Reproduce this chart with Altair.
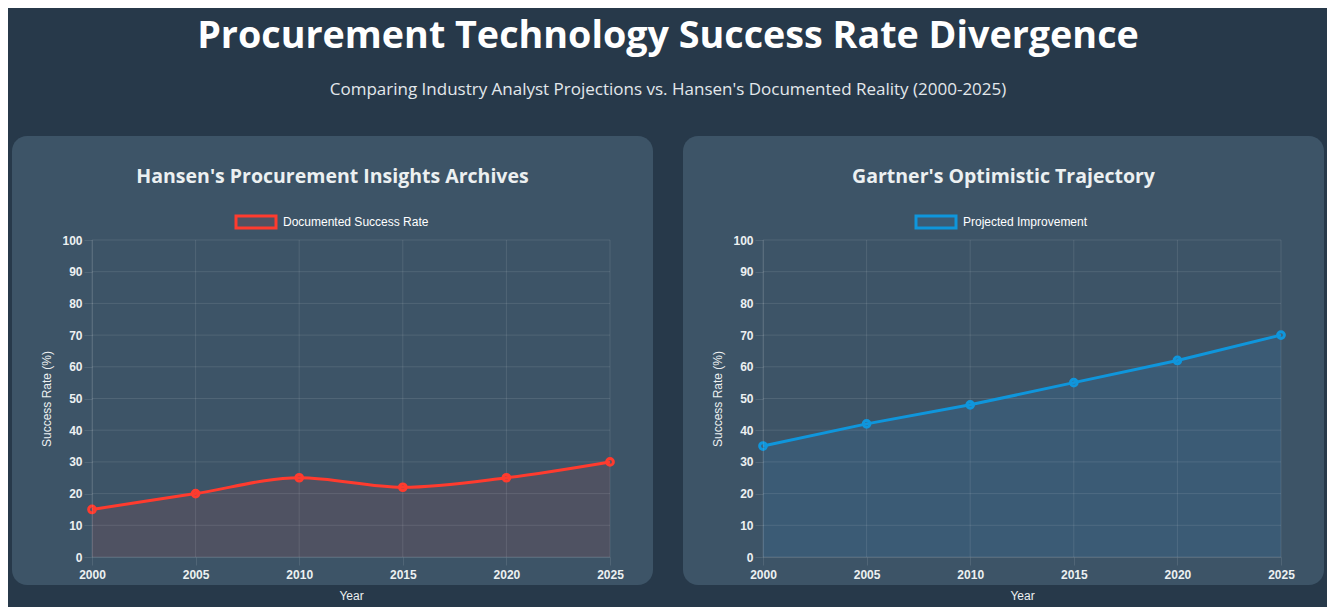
import altair as alt
import pandas as pd

years = [2000, 2005, 2010, 2015, 2020, 2025]
hansen_rate = [15, 20, 25, 22, 25, 30]
gartner_rate = [35, 42, 48, 55, 62, 70]
y_ticks = [0, 10, 20, 30, 40, 50, 60, 70, 80, 90, 100]

panel_titles = ["Hansen's Procurement Insights Archives", "Gartner's Optimistic Trajectory"]
series_names = ["Documented Success Rate", "Projected Improvement"]
main_title = "Procurement Technology Success Rate Divergence"
main_subtitle = "Comparing Industry Analyst Projections vs. Hansen's Documented Reality (2000-2025)"

W, H = 518, 317
CARD = "#3d5467"
GRID = "rgba(255,255,255,0.1)"
TXT = "#ecf0f1"
TICK_FONT = "Liberation Sans"
HEAD_FONT = "Open Sans"


def panel(values, ptitle, series, color, fill, interp, legend_x):
    df = pd.DataFrame({"Year": years, "Rate": values})
    xenc = alt.X(
        "Year:Q",
        scale=alt.Scale(domain=[2000, 2025], nice=False, zero=False),
        axis=alt.Axis(values=years, format="d", title="Year", grid=False, zindex=1,
                      tickSize=8, tickColor=GRID, domainColor=GRID, labelFlush=False,
                      labelColor=TXT, labelFont=TICK_FONT, labelFontSize=12,
                      labelFontWeight="bold", labelPadding=4,
                      titleColor=TXT, titleFont=TICK_FONT, titleFontSize=12,
                      titleFontWeight="normal", titlePadding=10),
    )
    yenc = alt.Y(
        "Rate:Q",
        scale=alt.Scale(domain=[0, 100], nice=False),
        axis=alt.Axis(values=y_ticks, title="Success Rate (%)", grid=False, zindex=1,
                      tickSize=8, tickColor=GRID, domainColor=GRID, labelFlush=False,
                      labelColor=TXT, labelFont=TICK_FONT, labelFontSize=12,
                      labelFontWeight="bold", labelPadding=2,
                      titleColor=TXT, titleFont=TICK_FONT, titleFontSize=12,
                      titleFontWeight="normal", titlePadding=8),
    )
    one = alt.Chart(pd.DataFrame({"label": [ptitle], "series": [series]}))
    card = one.mark_rect(fill=CARD, cornerRadius=15).encode(
        x=alt.value(-80), x2=alt.value(561), y=alt.value(-104), y2=alt.value(345)
    )
    head = one.mark_text(font=HEAD_FONT, fontSize=19.5, fontWeight="bold", color=TXT,
                         align="center", baseline="middle").encode(
        x=alt.value(240.5), y=alt.value(-63), text="label:N"
    )
    leg_box = one.mark_rect(fill=fill, stroke=color, strokeWidth=3).encode(
        x=alt.value(legend_x), x2=alt.value(legend_x + 40),
        y=alt.value(-24), y2=alt.value(-12)
    )
    leg_txt = one.mark_text(font=TICK_FONT, fontSize=12, color="white",
                            align="left", baseline="middle").encode(
        x=alt.value(legend_x + 47), y=alt.value(-18), text="series:N"
    )
    hgrid = alt.Chart(pd.DataFrame({"Rate": y_ticks})).mark_rule(color=GRID).encode(y=yenc)
    vgrid = alt.Chart(pd.DataFrame({"Year": years})).mark_rule(color=GRID).encode(x=xenc)
    base = alt.Chart(df)
    area = base.mark_area(color=fill, interpolate=interp).encode(x=xenc, y=yenc)
    line = base.mark_line(color=color, strokeWidth=3, interpolate=interp).encode(x=xenc, y=yenc)
    pts = base.mark_point(shape="circle", filled=False, fill=fill, stroke=color,
                          strokeWidth=3, size=45, opacity=1).encode(x=xenc, y=yenc)
    return alt.layer(card, area, hgrid, vgrid, line, pts, head, leg_box, leg_txt).properties(
        width=W, height=H
    )


left = panel(hansen_rate, panel_titles[0], series_names[0], "#ff3b2e",
             "rgba(231,76,60,0.11)", "monotone", 144)
right = panel(gartner_rate, panel_titles[1], series_names[1], "#0f96dc",
              "rgba(52,152,219,0.12)", "linear", 153)

chart = alt.hconcat(left, right, spacing=30).properties(
    title=alt.TitleParams(
        main_title, subtitle=main_subtitle, anchor="middle", color="white",
        font=HEAD_FONT, fontSize=37.7, fontWeight="bold",
        subtitleColor="#e3e8ec", subtitleFont=HEAD_FONT, subtitleFontSize=17,
        subtitlePadding=26, offset=38,
    ),
    padding={"left": 4, "top": 10, "right": 3, "bottom": 6},
    background="#27394a",
).configure_view(stroke=None)

chart.save("out.html", embed_options={"renderer": "svg", "actions": False})
